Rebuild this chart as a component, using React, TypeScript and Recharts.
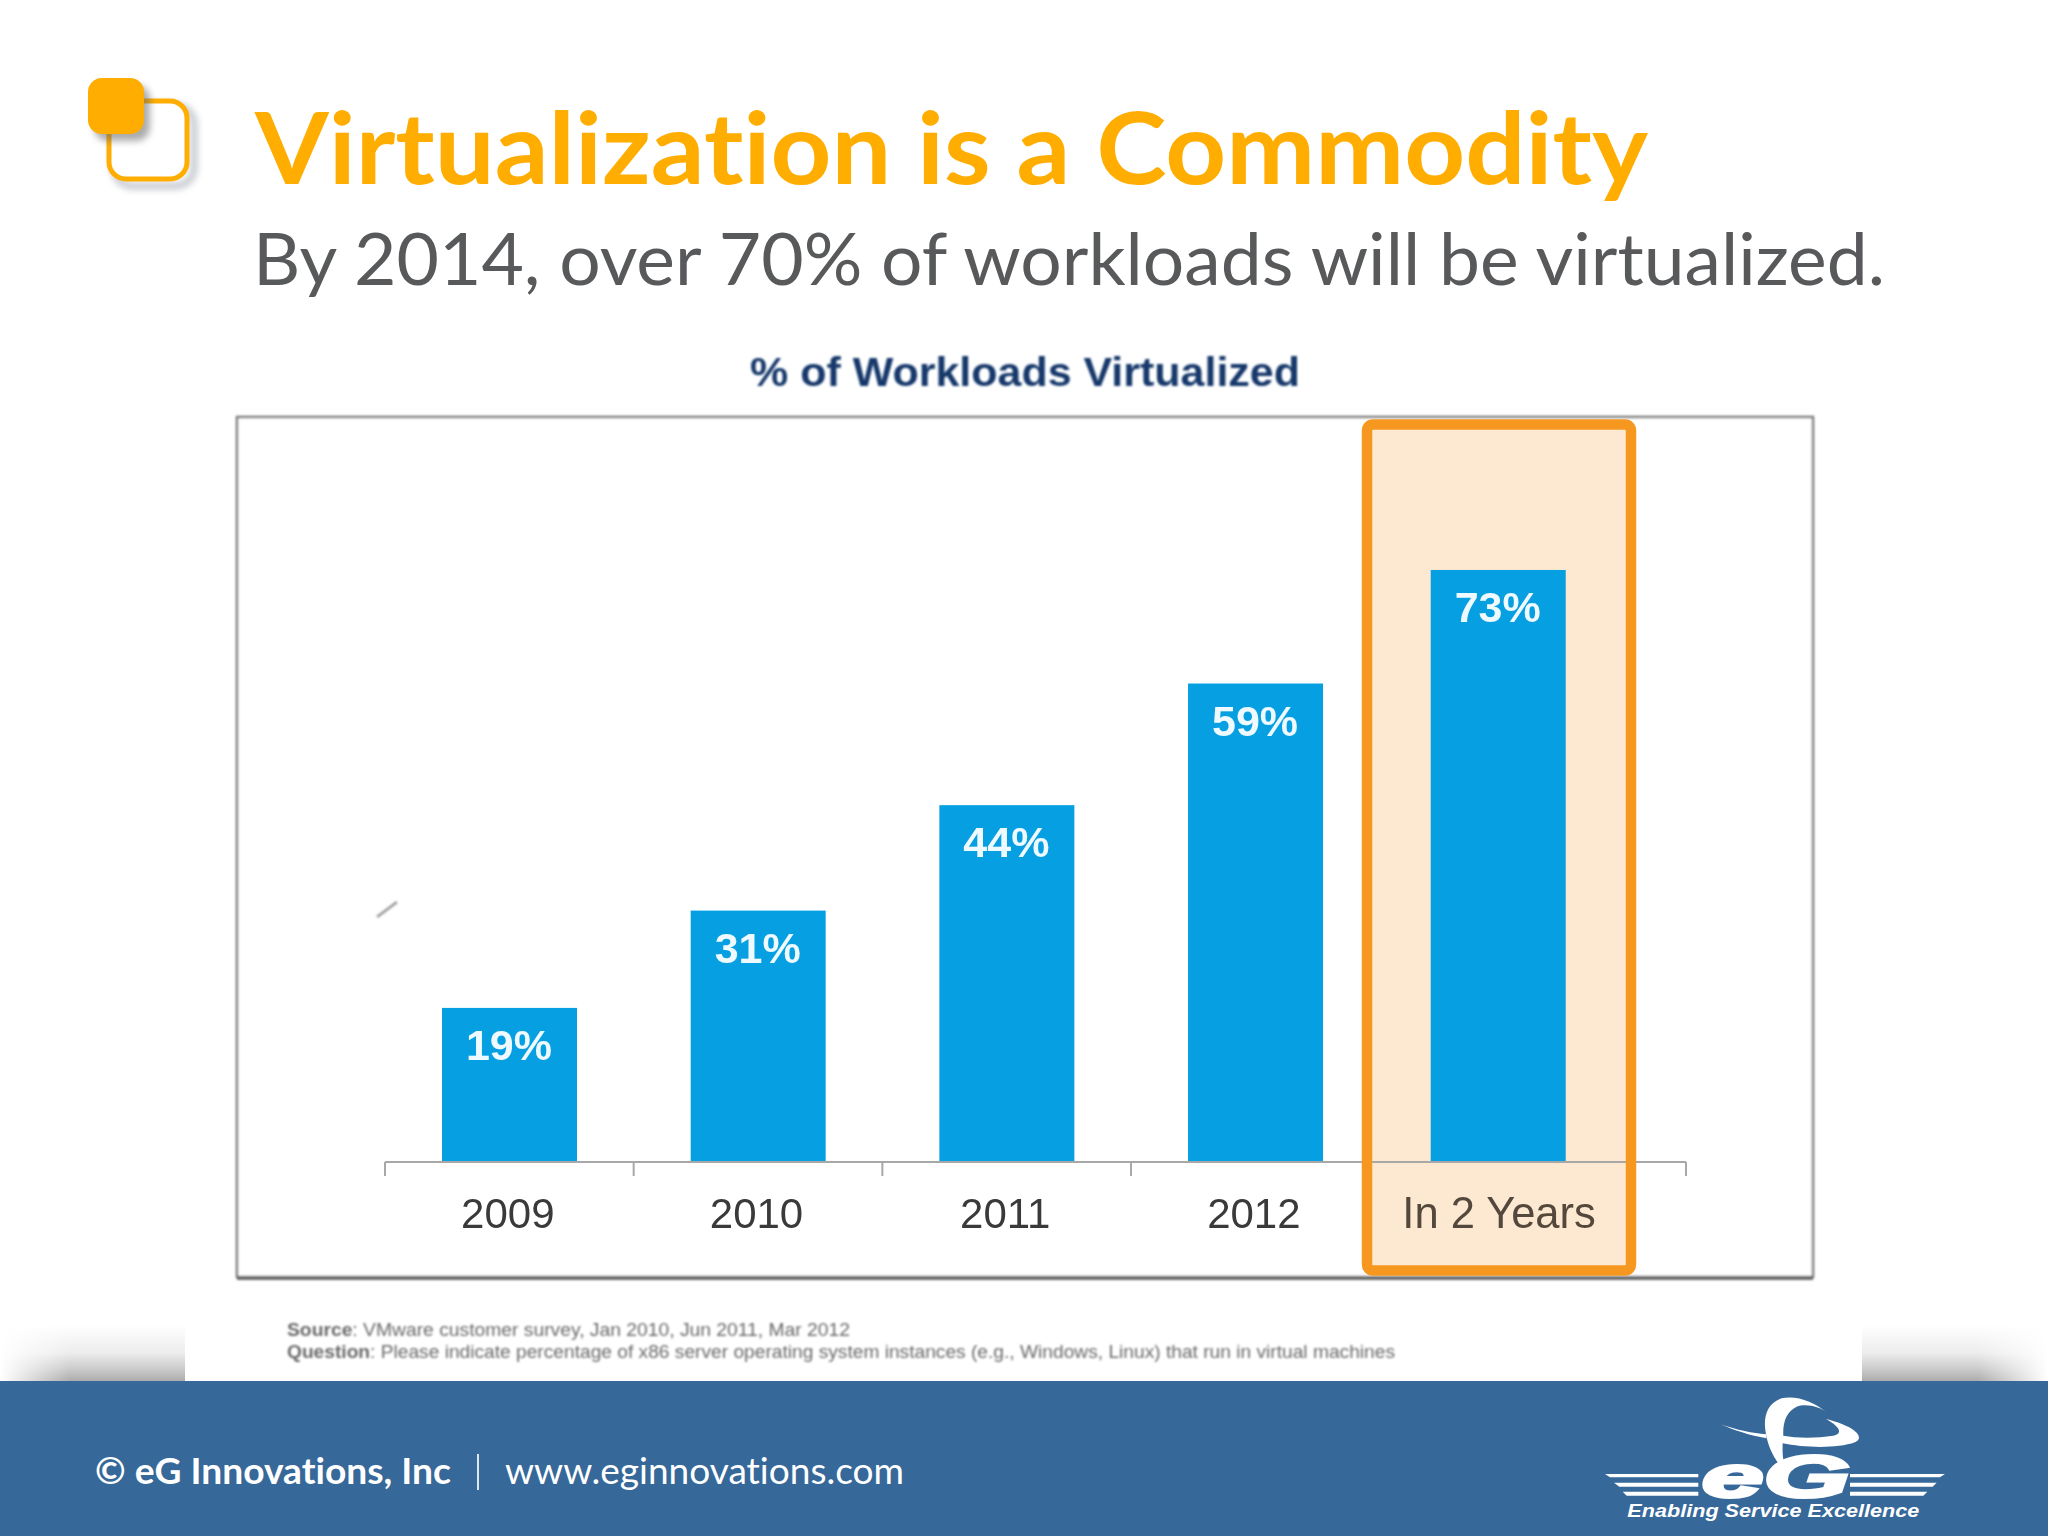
import React from 'react';
import { BarChart, Bar, XAxis, YAxis, LabelList } from 'recharts';

const categories = ['2009', '2010', '2011', '2012', 'In 2 Years'];
const virtualized = [19, 31, 44, 59, 73];
const tableRows = categories.map((name, i) => ({ name, value: virtualized[i] }));

const BAND = 248.7;
const RIGHT_PAD = 57.6;
const LAST_SHIFT = -6;
const nudge = (i: number) => (i === categories.length - 1 ? LAST_SHIFT : 0);
const ARIAL = '"Liberation Sans", Arial, sans-serif';
const LATO = 'Lato, sans-serif';
const noLigatures: React.CSSProperties = { fontVariantLigatures: 'none' };

function YearTick(props: any) {
  const { x, y, payload, index } = props;
  const last = index === categories.length - 1;
  const end = x + BAND / 2 + RIGHT_PAD;
  return (
    <g>
      {!last && <line x1={x - BAND / 2} x2={x - BAND / 2} y1={y} y2={y + 14} stroke="#a8a8a8" strokeWidth={2} />}
      {last && <line x1={end} x2={end} y1={y} y2={y + 14} stroke="#a8a8a8" strokeWidth={2} />}
      <text x={x + nudge(index) + (last ? 1 : -1.5)} y={y + 66} textAnchor="middle" fontFamily={ARIAL} fontSize={last ? 43.5 : 42}
        fill={last ? '#54483c' : '#3a3a3a'}>{payload.value}</text>
    </g>
  );
}

function BarShape(props: any) {
  const { x, y, width, height, index } = props;
  return <rect x={x + nudge(index)} y={y} width={width} height={height} fill="#069fe1" />;
}

function ValueLabel(props: any) {
  const { x, y, width, value, index } = props;
  return (
    <text x={x + width / 2 + nudge(index) - 0.5} y={y + 52} textAnchor="middle" fontFamily={ARIAL} fontWeight="bold"
      fontSize={43} fill="#eefaff">{value}%</text>
  );
}

function Logo() {
  return (
    <g transform="translate(1590,1385) scale(0.3333)" fill="#fff">
      <polygon points="45,267 325,267 325,277 60,277" />
      <polygon points="72,293 325,293 325,305 88,305" />
      <polygon points="98,320 325,320 325,332 110,332" />
      <polygon points="780,267 1065,267 1050,277 780,277" />
      <polygon points="780,293 1040,293 1028,305 780,305" />
      <polygon points="780,320 1012,320 1000,332 780,332" />
      <path d="M715,85 C670,50 620,30 575,40 C535,52 520,90 526,135 C532,180 550,225 590,262 C575,220 578,190 578,175 C640,188 740,192 795,172 C825,158 800,125 708,102 C750,125 760,145 730,152 C680,160 620,160 580,152 C578,110 590,80 620,65 C650,55 690,65 715,85 Z" />
      <path d="M392,118 C440,135 490,145 528,148 L530,160 C480,152 430,135 392,118 Z" />
      <text x={335} y={336} fontFamily={ARIAL} fontWeight="bold" fontStyle="italic" fontSize={178} textLength={445}
        lengthAdjust="spacingAndGlyphs" stroke="#fff" strokeWidth={9}>eG</text>
      <text x={112} y={396} fontFamily={ARIAL} fontWeight="bold" fontStyle="italic" fontSize={56} textLength={876}
        lengthAdjust="spacingAndGlyphs">Enabling Service Excellence</text>
    </g>
  );
}

export default function App() {
  const full: React.CSSProperties = { position: 'absolute', left: 0, top: 0, width: 2048, height: 1536 };
  return (
    <div style={{ ...full, background: '#fff', overflow: 'hidden' }}>
      <svg width={2048} height={1536} style={full}>
        <defs>
          <linearGradient id="shade" x1="0" y1="0" x2="0" y2="1">
            <stop offset="0" stopColor="#acacac" stopOpacity={0} />
            <stop offset="0.5" stopColor="#acacac" stopOpacity={0.22} />
            <stop offset="0.8" stopColor="#acacac" stopOpacity={0.65} />
            <stop offset="1" stopColor="#acacac" stopOpacity={1} />
          </linearGradient>
          <linearGradient id="fadeL" x1="0" y1="0" x2="1" y2="0">
            <stop offset="0" stopColor="#fff" stopOpacity={1} />
            <stop offset="1" stopColor="#fff" stopOpacity={0} />
          </linearGradient>
          <linearGradient id="fadeR" x1="1" y1="0" x2="0" y2="0">
            <stop offset="0" stopColor="#fff" stopOpacity={1} />
            <stop offset="1" stopColor="#fff" stopOpacity={0} />
          </linearGradient>
          <filter id="soft" x="-30%" y="-30%" width="170%" height="170%">
            <feGaussianBlur stdDeviation="3.5" />
          </filter>
          <filter id="tiny" x="-2%" y="-2%" width="104%" height="104%"><feGaussianBlur stdDeviation="0.8" /></filter>
          <filter id="lineBlur" x="-2%" y="-500%" width="104%" height="1100%"><feGaussianBlur stdDeviation="2.5" /></filter>
        </defs>

        {/* slide shadows and footer */}
        <rect x={0} y={1325} width={185} height={56} fill="url(#shade)" />
        <rect x={1862} y={1325} width={186} height={56} fill="url(#shade)" />
        <rect x={0} y={1325} width={70} height={56} fill="url(#fadeL)" />
        <rect x={1978} y={1325} width={70} height={56} fill="url(#fadeR)" />
        <rect x={0} y={1381} width={2048} height={155} fill="#366899" />

        {/* bullet icon */}
        <rect x={114} y={106} width={80} height={80} rx={18} fill="none" stroke="#8f95a0" strokeWidth={6} opacity={0.6} filter="url(#soft)" />
        <rect x={109} y={101} width={78} height={78} rx={17} fill="#fff" stroke="#ffad00" strokeWidth={5} />
        <rect x={94} y={85} width={56} height={56} rx={14} fill="#666" opacity={0.55} filter="url(#soft)" />
        <rect x={88} y={78} width={56} height={56} rx={14} fill="#ffad00" />

        {/* headings */}
        <text x={255} y={184} fontFamily={LATO} fontWeight="bold" fontSize={100} fill="#ffad00" textLength={1393}
          lengthAdjust="spacingAndGlyphs" style={noLigatures}>Virtualization is a Commodity</text>
        <text x={253} y={285} fontFamily={LATO} fontSize={72} fill="#58595b" textLength={1632}
          lengthAdjust="spacingAndGlyphs" style={noLigatures}>By 2014, over 70% of workloads will be virtualized.</text>

        {/* chart frame */}
        <g filter="url(#tiny)">
          <text x={750} y={386} fontFamily={ARIAL} fontWeight="bold" fontSize={40} fill="#14396b" textLength={550}
            lengthAdjust="spacingAndGlyphs">% of Workloads Virtualized</text>
          <rect x={237} y={417} width={1576} height={860} fill="#fff" stroke="#7c7c7c" strokeWidth={2.5} />
          <line x1={237} x2={1813} y1={1281} y2={1281} stroke="#808080" strokeWidth={5} filter="url(#lineBlur)" />
          <line x1={237} x2={1813} y1={1278} y2={1278} stroke="#6c6c6c" strokeWidth={4} />
          <rect x={1367} y={424} width={264} height={847} fill="#fde9d1" />
          <line x1={377} y1={917} x2={397} y2={902} stroke="#a0a0a0" strokeWidth={3} />
          <text x={287} y={1336} fontFamily={ARIAL} fontSize={18} fill="#6a6a6a" textLength={563}
            lengthAdjust="spacingAndGlyphs"><tspan fontWeight="bold">Source</tspan>: VMware customer survey, Jan 2010, Jun 2011, Mar 2012</text>
          <text x={287} y={1358} fontFamily={ARIAL} fontSize={18} fill="#6a6a6a" textLength={1108}
            lengthAdjust="spacingAndGlyphs"><tspan fontWeight="bold">Question</tspan>: Please indicate percentage of x86 server operating system instances (e.g., Windows, Linux) that run in virtual machines</text>
        </g>
      </svg>

      <div style={{ ...full, filter: 'blur(0.7px)' }}>
        <BarChart width={2048} height={1536} data={tableRows} margin={{ top: 351, right: 362, bottom: 314, left: 385 }}>
          <YAxis hide domain={[0, 100]} />
          <XAxis dataKey="name" height={60} padding={{ left: 0, right: RIGHT_PAD }} tickLine={false} tickSize={0} tickMargin={0}
            axisLine={{ stroke: '#a8a8a8', strokeWidth: 2 }} interval={0} tick={<YearTick />} />
          <Bar dataKey="value" barSize={135} isAnimationActive={false} shape={<BarShape />}>
            <LabelList dataKey="value" content={<ValueLabel />} />
          </Bar>
        </BarChart>
      </div>

      <svg width={2048} height={1536} style={{ ...full, pointerEvents: 'none' }}>
        <rect x={1367} y={424.5} width={264} height={846} rx={6} fill="none" stroke="#f6981f" strokeWidth={10.5} />
        <text x={95} y={1484} fontFamily={LATO} fontWeight="bold" fontSize={37} fill="#fff" textLength={356}
          lengthAdjust="spacingAndGlyphs" style={noLigatures}>© eG Innovations, Inc</text>
        <line x1={478} x2={478} y1={1454} y2={1490} stroke="#dfe7ef" strokeWidth={2} />
        <text x={505} y={1484} fontFamily={LATO} fontSize={37} fill="#fff" textLength={399}
          lengthAdjust="spacingAndGlyphs" style={noLigatures}>www.eginnovations.com</text>
        <Logo />
      </svg>
    </div>
  );
}
